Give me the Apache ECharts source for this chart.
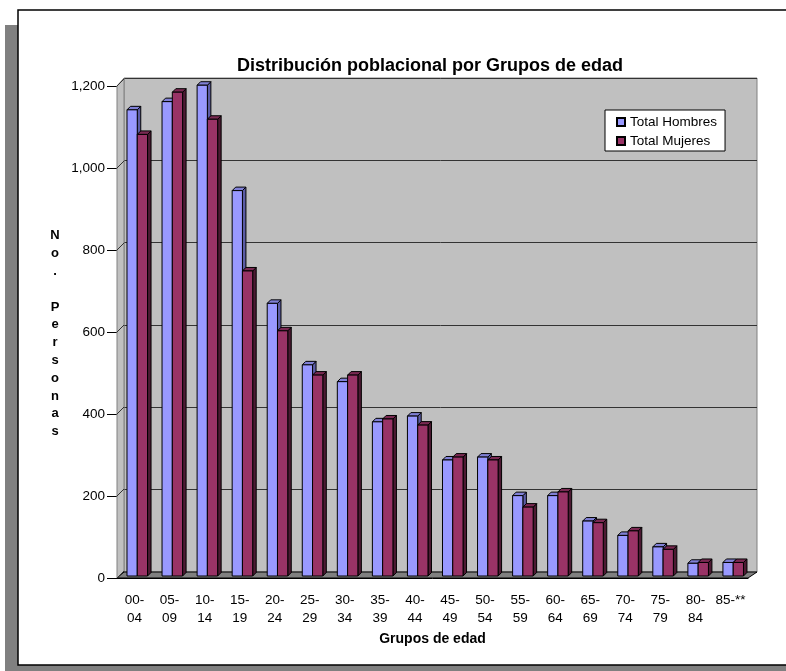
<!DOCTYPE html>
<html>
<head>
<meta charset="utf-8">
<script src="https://cdn.jsdelivr.net/npm/echarts@6/dist/echarts.min.js"></script>
<style>
html, body { margin: 0; padding: 0; background: #fff; }
#main { width: 786px; height: 671px; }
</style>
</head>
<body>
<div id="main"></div>
<script>
// datos
var grupos = ['00-\n04', '05-\n09', '10-\n14', '15-\n19', '20-\n24', '25-\n29', '30-\n34', '35-\n39', '40-\n44',
    '45-\n49', '50-\n54', '55-\n59', '60-\n64', '65-\n69', '70-\n74', '75-\n79', '80-\n84', '85-**'];
var hombres = [1137, 1157, 1197, 940, 665, 515, 474, 376, 390, 283, 290, 196, 196, 134, 99, 71, 31, 33];
var mujeres = [1077, 1180, 1114, 744, 598, 490, 490, 383, 368, 290, 283, 168, 205, 130, 110, 65, 33, 33];
var ticksY = [0, 200, 400, 600, 800, 1000, 1200];

var fuente = 'Liberation Sans, Arial, sans-serif';
var prof = 3.5; // profundidad 3D de cada barra

var chart = echarts.init(document.getElementById('main'));

function barra3D(frente, lado, tapa) {
    return function (params, api) {
        var s = params.seriesIndex;
        var cat = api.value(0);
        var base = api.coord([cat, 0]);
        var tope = api.coord([cat, api.value(1)]);
        var band = api.size([1, 0])[0];
        var w = band * 0.293;
        var x0 = base[0] - band * 0.215 + s * w;
        var x1 = x0 + w;
        var yB = base[1] - 2;
        var yT = tope[1] - 2;
        var borde = { stroke: '#000', lineWidth: 1 };
        return {
            type: 'group',
            children: [
                {
                    type: 'polygon',
                    shape: { points: [[x1, yT], [x1 + prof, yT - prof], [x1 + prof, yB - prof], [x1, yB]] },
                    style: Object.assign({ fill: lado }, borde)
                },
                {
                    type: 'polygon',
                    shape: { points: [[x0, yT], [x0 + prof, yT - prof], [x1 + prof, yT - prof], [x1, yT]] },
                    style: Object.assign({ fill: tapa }, borde)
                },
                {
                    type: 'rect',
                    shape: { x: x0, y: yT, width: w, height: yB - yT },
                    style: Object.assign({ fill: frente }, borde)
                }
            ]
        };
    };
}

function conectorTick(params, api) {
    var p = api.coord([0, api.value(1)]);
    var band = api.size([1, 0])[0];
    var x = p[0] - band / 2;
    return {
        type: 'line',
        shape: { x1: x, y1: p[1], x2: x + 7, y2: p[1] - 7 },
        style: { stroke: '#333', lineWidth: 1 }
    };
}

var option = {
    animation: false,
    backgroundColor: '#fff',
    title: {
        text: 'Distribución poblacional por Grupos de edad',
        left: 232,
        top: 52,
        textStyle: { fontFamily: fuente, fontSize: 18, fontWeight: 'bold', color: '#000' }
    },
    legend: {
        left: 605,
        top: 110,
        orient: 'vertical',
        backgroundColor: '#fff',
        borderColor: '#000',
        borderWidth: 1,
        padding: [5, 8, 3, 11],
        itemWidth: 8,
        itemHeight: 8,
        itemGap: 5,
        icon: 'rect',
        textStyle: { fontFamily: fuente, fontSize: 13.5, color: '#000' },
        data: ['Total Hombres', 'Total Mujeres']
    },
    grid: [
        { left: 117, top: 86, width: 631, height: 492 },
        { left: 124, top: 78, width: 633, height: 494, show: true, backgroundColor: '#c0c0c0', borderColor: '#808080', borderWidth: 1 }
    ],
    xAxis: [
        {
            type: 'category',
            gridIndex: 0,
            data: grupos,
            name: 'Grupos de edad',
            nameLocation: 'middle',
            nameGap: 50,
            nameTextStyle: { fontFamily: fuente, fontSize: 14, fontWeight: 'bold', color: '#000' },
            axisLine: { lineStyle: { color: '#000', width: 1 } },
            axisTick: { length: 8, lineStyle: { color: '#000' } },
            axisLabel: { fontFamily: fuente, fontSize: 13.5, color: '#000', margin: 13, lineHeight: 18, interval: 0 },
            splitLine: { show: false }
        },
        {
            type: 'category',
            gridIndex: 1,
            data: grupos,
            axisLine: { show: false },
            axisTick: { show: false },
            axisLabel: { show: false },
            splitLine: { show: false }
        }
    ],
    yAxis: [
        {
            type: 'value',
            gridIndex: 0,
            min: 0,
            max: 1200,
            interval: 200,
            axisLine: { show: true, lineStyle: { color: '#000', width: 1 } },
            axisTick: { show: true, length: 10, lineStyle: { color: '#000' } },
            axisLabel: {
                fontFamily: fuente, fontSize: 13.5, color: '#000', margin: 12,
                formatter: function (v) { return v.toLocaleString('en-US'); }
            },
            splitLine: { show: false }
        },
        {
            type: 'value',
            gridIndex: 1,
            min: 0,
            max: 1200,
            interval: 200,
            axisLine: { show: false },
            axisTick: { show: false },
            axisLabel: { show: false },
            splitLine: { show: true, lineStyle: { color: '#333', width: 1 } }
        }
    ],
    graphic: [
        { type: 'rect', z: 0, shape: { x: 5, y: 25, width: 13, height: 646 }, style: { fill: '#808080' } },
        { type: 'rect', z: 0, shape: { x: 5, y: 665, width: 781, height: 6 }, style: { fill: '#808080' } },
        { type: 'polyline', z: 1, shape: { points: [[786, 10], [18, 10], [18, 665], [786, 665]] }, style: { stroke: '#000', lineWidth: 1.5, fill: null } },
        // pared izquierda y piso del grafico 3D
        { type: 'polygon', z: 1, shape: { points: [[117, 578], [117, 86], [124, 78], [124, 572]] }, style: { fill: '#c0c0c0', stroke: '#808080', lineWidth: 1 } },
        { type: 'polygon', z: 1, shape: { points: [[117, 578], [748, 578], [757, 572], [124, 572]] }, style: { fill: '#808080', stroke: '#000', lineWidth: 1 } },
        {
            type: 'text', z: 5, x: 55, y: 227,
            style: {
                text: 'N\no\n.\n \nP\ne\nr\ns\no\nn\na\ns',
                font: 'bold 13px Liberation Sans, Arial, sans-serif',
                fill: '#000', align: 'center', verticalAlign: 'top', lineHeight: 17.8
            }
        }
    ],
    series: [
        {
            name: 'Total Hombres',
            type: 'custom',
            xAxisIndex: 0,
            yAxisIndex: 0,
            z: 5,
            itemStyle: { color: '#9999ff', borderColor: '#000', borderWidth: 1 },
            renderItem: barra3D('#9999ff', '#5c5ca6', '#8080d6'),
            encode: { x: 0, y: 1 },
            data: hombres.map(function (v, i) { return [i, v]; })
        },
        {
            name: 'Total Mujeres',
            type: 'custom',
            xAxisIndex: 0,
            yAxisIndex: 0,
            z: 5,
            itemStyle: { color: '#993366', borderColor: '#000', borderWidth: 1 },
            renderItem: barra3D('#993366', '#4d1a33', '#7a2952'),
            encode: { x: 0, y: 1 },
            data: mujeres.map(function (v, i) { return [i, v]; })
        },
        {
            name: 'conectores',
            type: 'custom',
            xAxisIndex: 0,
            yAxisIndex: 0,
            z: 3,
            silent: true,
            renderItem: conectorTick,
            encode: { x: 0, y: 1 },
            data: ticksY.map(function (v) { return [0, v]; })
        }
    ]
};
chart.setOption(option);
</script>
</body>
</html>
